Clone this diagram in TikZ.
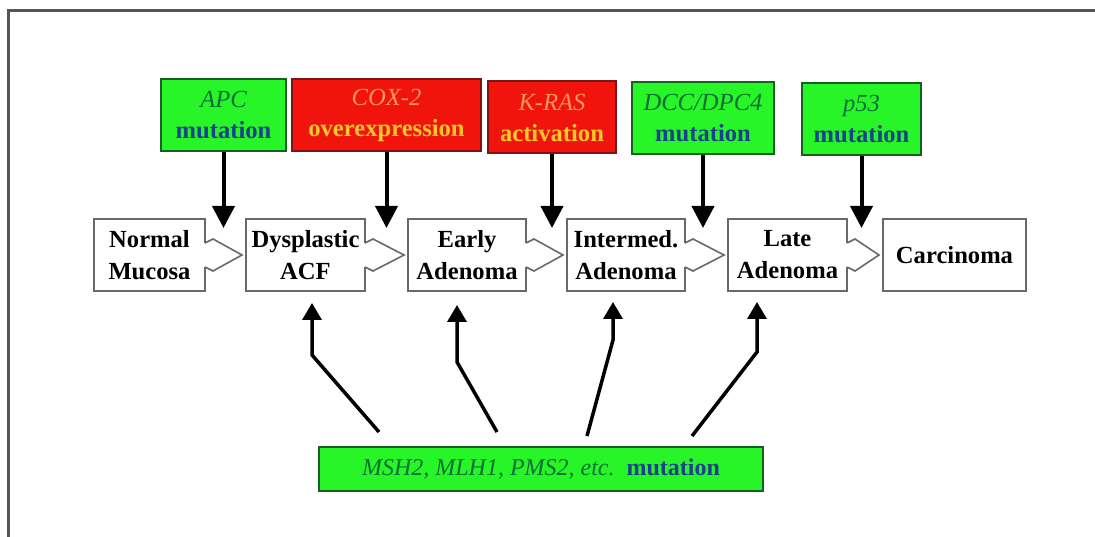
\documentclass[tikz,border=0pt]{standalone}
\usepackage{fontspec}
\setmainfont{Liberation Serif}
\usetikzlibrary{calc,arrows.meta}
\definecolor{framegray}{RGB}{85,85,85}
\definecolor{edgegray}{RGB}{105,105,105}
\definecolor{mutgreen}{RGB}{40,245,40}
\definecolor{mutedge}{RGB}{25,95,35}
\definecolor{oncored}{RGB}{240,20,12}
\definecolor{oncoedge}{RGB}{125,20,20}
\definecolor{genegreen}{RGB}{10,110,55}
\definecolor{wordblue}{RGB}{25,65,140}
\definecolor{geneorange}{RGB}{255,150,90}
\definecolor{wordyellow}{RGB}{255,200,40}
\newcommand{\gname}[1]{{\itshape\color{genegreen}#1}}
\newcommand{\gword}[1]{{\bfseries\color{wordblue}#1}}
\newcommand{\rname}[1]{{\itshape\color{geneorange}#1}}
\newcommand{\rword}[1]{{\bfseries\color{wordyellow}#1}}
\tikzset{>=stealth,
  stage/.style={draw=edgegray, line width=2pt, fill=white, minimum height=72pt,
    inner sep=2pt, align=center, font=\fontsize{24.6}{32}\selectfont\bfseries},
  mutbox/.style={draw=mutedge, line width=2pt, fill=mutgreen, minimum height=72pt,
    inner sep=2pt, align=center, font=\fontsize{24.6}{31}\selectfont},
  oncobox/.style={mutbox, draw=oncoedge, fill=oncored},
  pointer/.style={draw=edgegray, line width=1.6pt, line join=miter},
  hit/.style={line width=4pt, -{Triangle[width=22pt,length=22pt]}},
  fix/.style={line width=3.5pt, -{Triangle[width=19pt,length=17pt]}}}

\begin{document}
\begin{tikzpicture}[x=1pt, y=-1pt]
\useasboundingbox (0,0) rectangle (1095,537);
\draw[framegray, line width=3pt] (8,537) -- (8,11) -- (1095,11);

% stages
\node[stage, minimum width=111pt] (normal) at (149.5,255) {Normal\\Mucosa};
\node[stage, minimum width=119pt] (dysp) at (305.5,255) {Dysplastic\\ACF};
\node[stage, minimum width=118pt] (early) at (467,255) {Early\\Adenoma};
\node[stage, minimum width=118pt] (inter) at (626,255) {Intermed.\\Adenoma};
\node[stage, minimum width=119pt] (late) at (787.5,255) {Late\\Adenoma};
\node[stage, minimum width=143pt] (carc) at (954.5,255) {Carcinoma};

% events
\node[mutbox, minimum width=125pt] (apc) at (223.5,115) {\gname{APC}\\\gword{mutation}};
\node[oncobox, minimum width=189pt] (cox) at (386.5,115) {\rname{COX-2}\\\rword{overexpression}};
\node[oncobox, minimum width=128pt] (kras) at (552,117.5) {\rname{K-RAS}\\\rword{activation}};
\node[mutbox, minimum width=142pt] (dcc) at (703,118) {\gname{DCC/DPC4}\\\gword{mutation}};
\node[mutbox, minimum width=119pt] (p53) at (861.5,119.5) {\gname{p53}\\\gword{mutation}};
\node[mutbox, minimum width=444pt, minimum height=44pt, font=\fontsize{24}{30}\selectfont]
  (msh) at (541,469) {\gname{MSH2, MLH1, PMS2, etc.}\ \ \gword{mutation}};

\foreach \a/\b in {normal/dysp, dysp/early, early/inter, inter/late, late/carc} {
  \fill[white] ($(\a.east)+(-2.5,-12)$) rectangle ($(\a.east)+(0.2,12)$);
  \draw[pointer] ($(\a.east)+(-1,-12)$) -- ($(\a.east)+(7,-16)$) -- ($(\b.west)+(-3,0)$)
    -- ($(\a.east)+(7,16)$) -- ($(\a.east)+(-1,12)$);
}

\foreach \g/\s in {apc/normal, cox/dysp, kras/early, dcc/inter, p53/late}
  \draw[hit] (\g.south) -- ($(\g.south |- \s.north)+(0,10)$);

\draw[fix] ($(msh.north west)+(61,-14)$) -- ($(dysp.south)+(6.5,63)$) -- ($(dysp.south)+(6.5,11)$);
\draw[fix] ($(msh.north west)+(179,-14)$) -- ($(early.south)+(-10,70)$) -- ($(early.south)+(-10,13)$);
\draw[fix] ($(msh.north west)+(269,-10)$) -- ($(inter.south)+(-13,48)$) -- ($(inter.south)+(-13,10)$);
\draw[fix] ($(msh.north west)+(374,-10)$) -- ($(late.south)+(-30.5,60)$) -- ($(late.south)+(-30.5,10)$);
\end{tikzpicture}
\end{document}
